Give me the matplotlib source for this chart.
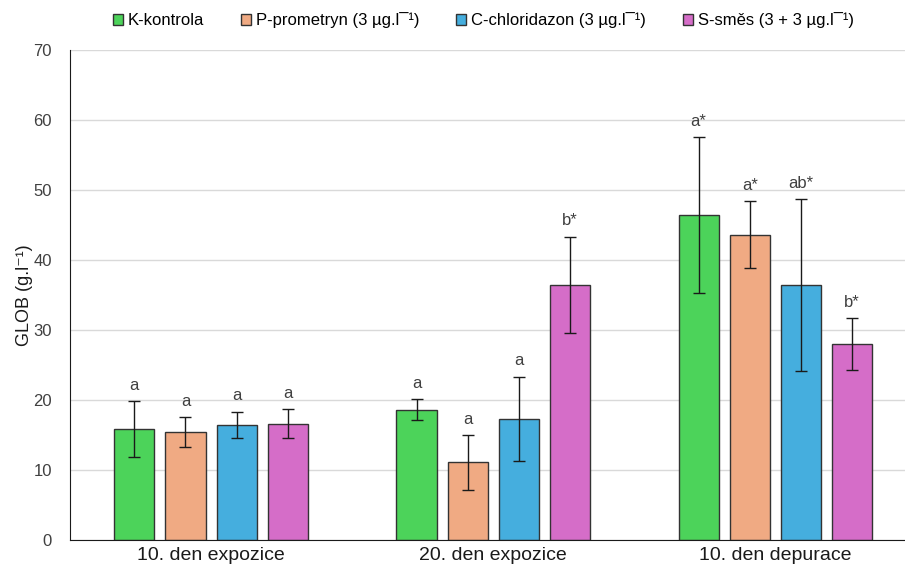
import numpy as np
import matplotlib
matplotlib.use("Agg")
import matplotlib.pyplot as plt

plt.rcParams['font.family'] = ['Liberation Sans', 'DejaVu Sans']

groups = ["10. den expozice", "20. den expozice", "10. den depurace"]
series = ["K-kontrola", "P-prometryn (3 µg.l¯¹)", "C-chloridazon (3 µg.l¯¹)", "S-směs (3 + 3 µg.l¯¹)"]
colors = ["#4cd35a", "#f0aa83", "#45aede", "#d56dc8"]

k_vals = [15.8, 18.6, 46.4]
p_vals = [15.4, 11.1, 43.6]
c_vals = [16.4, 17.3, 36.4]
s_vals = [16.6, 36.4, 28.0]

k_err = [4.0, 1.5, 11.1]
p_err = [2.1, 3.9, 4.8]
c_err = [1.9, 6.0, 12.3]
s_err = [2.1, 6.9, 3.7]

k_lab = ["a", "a", "a*"]
p_lab = ["a", "a", "a*"]
c_lab = ["a", "a", "ab*"]
s_lab = ["a", "b*", "b*"]

values = [k_vals, p_vals, c_vals, s_vals]
errors = [k_err, p_err, c_err, s_err]
labels = [k_lab, p_lab, c_lab, s_lab]

fig = plt.figure(figsize=(9.05, 5.72), dpi=100)
ax = fig.add_axes([0.0773, 0.056, 0.9227, 0.857])

x = np.arange(len(groups))
width = 0.142
step = 0.181

for i in range(4):
    pos = x + (i - 1.5) * step
    ax.bar(pos, values[i], width, color=colors[i], edgecolor="#333333",
           linewidth=1.0, label=series[i], zorder=2)
    ax.errorbar(pos, values[i], yerr=errors[i], fmt="none", ecolor="#1a1a1a",
                elinewidth=1.0, capsize=4, capthick=1.0, zorder=3)
    for j in range(len(groups)):
        ax.text(pos[j], values[i][j] + errors[i][j] + 1.2, labels[i][j],
                ha="center", va="bottom", fontsize=12, color="#404040")

ax.set_xlim(-0.5, 2.46)
ax.set_ylim(0, 70)
ax.set_yticks(np.arange(0, 71, 10))
ax.set_xticks(x)
ax.set_xticklabels(groups, fontsize=14)
ax.tick_params(axis="y", labelsize=12, length=0, colors="#404040", pad=13)
ax.tick_params(axis="x", length=0, pad=5, labelcolor="#1a1a1a")
ax.yaxis.grid(True, color="#d9d9d9", linewidth=1.0, zorder=0)
ax.set_axisbelow(True)
for s in ["top", "right"]:
    ax.spines[s].set_visible(False)
ax.spines["left"].set_color("#1a1a1a")
ax.spines["bottom"].set_color("#1a1a1a")
ax.set_ylabel("GLOB (g.l⁻¹)", fontsize=13, color="#1a1a1a")
ax.yaxis.set_label_coords(-0.044, 0.5)

leg = ax.legend(loc="lower center", bbox_to_anchor=(0.495, 1.03), ncol=4,
                frameon=False, fontsize=12, handlelength=0.6, handleheight=0.6,
                handletextpad=0.3, columnspacing=2.2, borderaxespad=0)

fig.savefig("out.png", dpi=100)
